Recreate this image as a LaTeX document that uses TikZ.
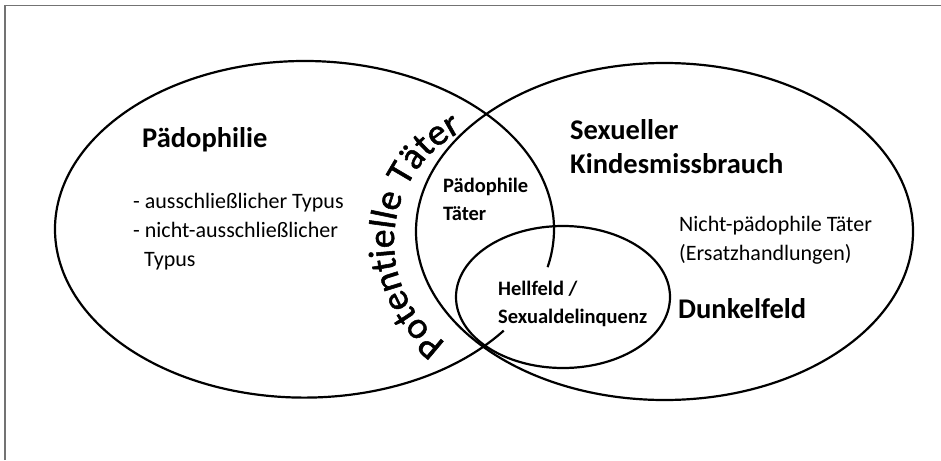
\documentclass[tikz,border=0pt]{standalone}
\usepackage{fontspec}
\setmainfont{Carlito}
\newfontfamily\arcfont{Carlito}[FakeBold=1.4]
\usetikzlibrary{decorations.text}

\begin{document}
\begin{tikzpicture}[x=1pt,y=-1pt,
    ring/.style={line width=2.2pt},
    big/.style={anchor=base west,inner sep=0pt,font=\bfseries\fontsize{28.5}{34}\selectfont},
    mid/.style={anchor=base west,inner sep=0pt,font=\bfseries\fontsize{20.5}{25}\selectfont},
    plain/.style={anchor=base west,inner sep=0pt,font=\fontsize{22}{27}\selectfont}]
  \definecolor{kFrame}{rgb}{0.45,0.45,0.45}

  \useasboundingbox (0,0) rectangle (941,460);

  % frame
  \draw[color=kFrame,line width=1.5pt] (5,460) -- (5,5.5) -- (941,5.5);

  % ellipses
  \draw[ring] (664.5,231.5) ellipse [x radius=248.5,y radius=168.5];
  \draw[ring] (563,297) ellipse [x radius=107,y radius=71];
  %% left one, open inside the Hellfeld
  \draw[ring] (304.5,229.3) ++(37:249.5 and 168.3)
    arc [start angle=37,end angle=373,x radius=249.5,y radius=168.3];

  % curved label
  \path[decorate,decoration={text along path,text align=center,
      text={|\arcfont\fontsize{37.5}{44}\selectfont|Potentielle Täter}}]
    (518,242) ++(124:124) arc [start angle=124,end angle=245,radius=124];

  % labels
  \node[big] (paedophilie) at (142,147) {Pädophilie};
  \node[plain] (typ1) at (133,208) {- ausschließlicher Typus};
  \node[plain] (typ2) at (133,237) {- nicht-ausschließlicher};
  \node[plain] (typ3) at (144,266) {Typus};

  \node[big] (sexueller) at (570,139) {Sexueller};
  \node[big] (kindes) at (570,173) {Kindesmissbrauch};

  \node[mid] (paedTaeter) at (443,192) {Pädophile};
  \node[mid] (paedTaeter2) at (443,220) {Täter};

  \node[mid] (hellfeld) at (498,295) {Hellfeld /};
  \node[mid] (hellfeld2) at (498,323) {Sexualdelinquenz};

  \node[plain] (nichtPaed) at (679,231) {Nicht-pädophile Täter};
  \node[plain] (nichtPaed2) at (679,260) {(Ersatzhandlungen)};

  \node[big] (dunkelfeld) at (678,318) {Dunkelfeld};
\end{tikzpicture}
\end{document}
